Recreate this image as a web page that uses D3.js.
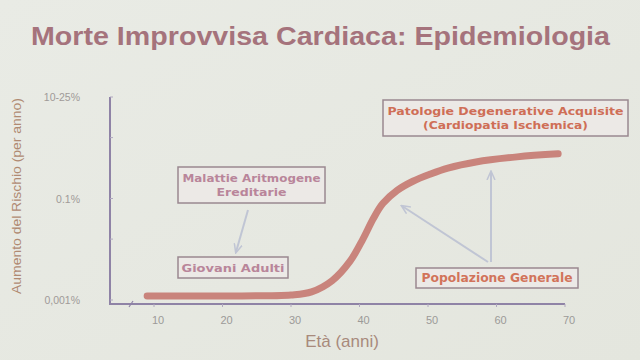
<!DOCTYPE html>
<html><head><meta charset="utf-8">
<script src="https://cdn.jsdelivr.net/npm/d3@7"></script>
<style>html,body{margin:0;padding:0;background:#e8eae3;}svg{display:block;}</style>
</head><body><svg id="c" width="640" height="360"></svg>
<script>
// Data
const ages = [9, 20, 30, 33, 36, 38.6, 40.5, 42, 43.4, 45.5, 47.8, 50.3, 52.9, 57, 63, 69];
const riskLevel = [0.04, 0.04, 0.05, 0.08, 0.19, 0.38, 0.60, 0.80, 0.95, 1.08, 1.17, 1.24, 1.30, 1.36, 1.41, 1.44];
const xTickValues = [10, 20, 30, 40, 50, 60, 70];
const yTickValues = [0, 1, 2];
const yTickLabels = ["0,001%", "0.1%", "10-25%"];
const title = "Morte Improvvisa Cardiaca: Epidemiologia";
const xTitle = "Età (anni)";
const yTitle = "Aumento del Rischio (per anno)";

const svg = d3.select("#c");
const defs = svg.append("defs");
const grad = defs.append("linearGradient").attr("id","bg").attr("x1",0).attr("y1",0).attr("x2",1).attr("y2",1);
grad.append("stop").attr("offset","0%").attr("stop-color","#e9ebe5");
grad.append("stop").attr("offset","100%").attr("stop-color","#e4e6de");
svg.append("rect").attr("width",640).attr("height",360).attr("fill","url(#bg)");

const x = d3.scaleLinear().domain([10, 70]).range([154, 565]);
const y = d3.scaleLinear().domain([0, 2]).range([300, 97]);
const FONT = "Liberation Sans, Arial, sans-serif";
const BFONT = "DejaVu Sans, Verdana, sans-serif";

// Title
svg.append("text").attr("x", 31).attr("y", 45)
  .attr("font-family",FONT).attr("font-weight","bold")
  .attr("font-size", 26).attr("textLength",579).attr("lengthAdjust","spacingAndGlyphs")
  .attr("fill","#a5737c").text(title);

// Axes lines
const axisCol = "#8f83a6";
svg.append("line").attr("x1",110).attr("x2",110).attr("y1",97).attr("y2",305).attr("stroke",axisCol).attr("stroke-width",2);
svg.append("line").attr("x1",110).attr("x2",x(70)).attr("y1",304).attr("y2",304).attr("stroke",axisCol).attr("stroke-width",2);
svg.append("path").attr("d","M129,307 L133,301").attr("stroke",axisCol).attr("stroke-width",1.2).attr("fill","none");

// x ticks
const xg = svg.append("g");
xg.selectAll("line").data(xTickValues).join("line")
  .attr("x1",d=>x(d)).attr("x2",d=>x(d)).attr("y1",304).attr("y2",307)
  .attr("stroke","#b0a8bf").attr("stroke-width",1);
xg.selectAll("text").data(xTickValues).join("text")
  .attr("x",d=>x(d)+4).attr("y",324).attr("text-anchor","middle")
  .attr("font-family",FONT).attr("font-size",11)
  .attr("fill","#9c9a98").text(d=>d);

// y ticks
const yg = svg.append("g");
yg.selectAll("line").data([0,0.6,1,1.6,2]).join("line")
  .attr("x1",110).attr("x2",113).attr("y1",d=>y(d)).attr("y2",d=>y(d))
  .attr("stroke","#b0a8bf").attr("stroke-width",1);
yg.selectAll("text").data(yTickValues).join("text")
  .attr("x",80).attr("y",d=>y(d)+4).attr("text-anchor","end")
  .attr("font-family",FONT).attr("font-size",10.5)
  .attr("fill","#a09a98").text((d,i)=>yTickLabels[i]);

// axis titles
svg.append("text").attr("x",342).attr("y",347).attr("text-anchor","middle")
  .attr("font-family",FONT).attr("font-size",17)
  .attr("fill","#a88a7c").text(xTitle);
svg.append("text").attr("transform","translate(21,196) rotate(-90)").attr("text-anchor","middle")
  .attr("font-family",FONT).attr("font-size",13).attr("textLength",196).attr("lengthAdjust","spacingAndGlyphs")
  .attr("fill","#b08a72").text(yTitle);

// Curve
const pts = ages.map((a,i)=>[a, riskLevel[i]]);
const line = d3.line().x(d=>x(d[0])).y(d=>y(d[1])).curve(d3.curveCatmullRom.alpha(0.5));
svg.append("path").attr("d", line(pts)).attr("fill","none")
  .attr("stroke","#c9847c").attr("stroke-width",7).attr("stroke-linecap","round");

// Arrows
const arrowCol = "#c0c5d4";
defs.append("marker").attr("id","ah").attr("viewBox","0 0 10 10").attr("refX",8).attr("refY",5)
  .attr("markerWidth",5).attr("markerHeight",5).attr("orient","auto")
  .append("path").attr("d","M0,1 L9,5 L0,9").attr("fill","none").attr("stroke",arrowCol).attr("stroke-width",1.5);
function arrow(x1,y1,x2,y2){
  svg.append("line").attr("x1",x1).attr("y1",y1).attr("x2",x2).attr("y2",y2)
    .attr("stroke",arrowCol).attr("stroke-width",2).attr("marker-end","url(#ah)");
}
arrow(248,210,236,252);
arrow(491,262,491,172);
arrow(488,262,402,206);

// Annotation boxes
function box(x0,y0,w,h,lines,widths,col,fs){
  svg.append("rect").attr("x",x0).attr("y",y0).attr("width",w).attr("height",h)
    .attr("fill","#ece9e6").attr("stroke","#9a8890").attr("stroke-width",1.5);
  const lh = fs*1.25;
  const startY = y0 + h/2 - (lines.length-1)*lh/2 + fs*0.37;
  lines.forEach((t,i)=>{
    svg.append("text").attr("x",x0+w/2).attr("y",startY+i*lh).attr("text-anchor","middle")
      .attr("font-family",BFONT).attr("font-weight","bold")
      .attr("font-size",fs).attr("textLength",widths[i]).attr("lengthAdjust","spacingAndGlyphs")
      .attr("fill",col).text(t);
  });
}
box(178,167,147,36,["Malattie Aritmogene","Ereditarie"],[138,70],"#b9859a",11);
box(178,257,110,21,["Giovani Adulti"],[103],"#b9859a",11);
box(383,100,245,36,["Patologie Degenerative Acquisite","(Cardiopatia Ischemica)"],[236,165],"#cf6e56",11);
box(416,268,162,20,["Popolazione Generale"],[151],"#d2735a",11.5);
</script></body></html>
